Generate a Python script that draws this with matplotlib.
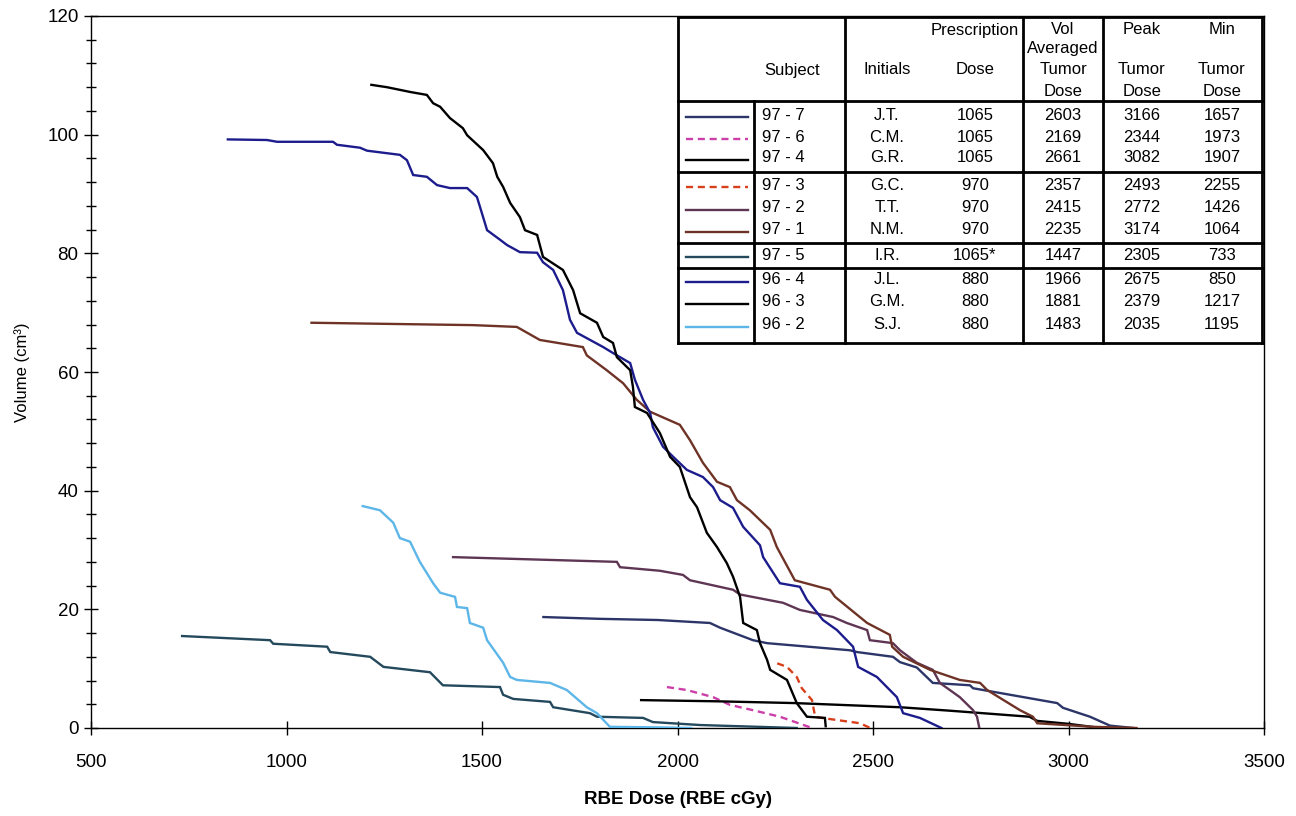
import matplotlib
matplotlib.use("Agg")
import matplotlib.pyplot as plt
from matplotlib.lines import Line2D
from matplotlib.patches import Rectangle
from matplotlib.ticker import MultipleLocator

plt.rcParams['font.family'] = ['Liberation Sans', 'DejaVu Sans']

# ---------------------------------------------------------------- data
subjects = ["97 - 7", "97 - 6", "97 - 4", "97 - 3", "97 - 2", "97 - 1",
            "97 - 5", "96 - 4", "96 - 3", "96 - 2"]
initials = ["J.T.", "C.M.", "G.R.", "G.C.", "T.T.", "N.M.",
            "I.R.", "J.L.", "G.M.", "S.J."]
prescription = ["1065", "1065", "1065", "970", "970", "970",
                "1065*", "880", "880", "880"]
vol_avg_dose = [2603, 2169, 2661, 2357, 2415, 2235, 1447, 1966, 1881, 1483]
peak_dose = [3166, 2344, 3082, 2493, 2772, 3174, 2305, 2675, 2379, 2035]
min_dose = [1657, 1973, 1907, 2255, 1426, 1064, 733, 850, 1217, 1195]

colors = ["#2c3568", "#cc3fa8", "#000000", "#d8401c", "#5e3654",
          "#6e3326", "#24495c", "#1c1c8c", "#000000", "#5cb6e8"]
styles = ["-", (0, (3, 2)), "-", (0, (3, 2)), "-", "-", "-", "-", "-", "-"]

# cumulative dose-volume curves (dose in RBE cGy, volume in cm3)
dose_97_7 = [1657, 1800, 1950, 2083, 2109, 2193, 2229, 2441, 2459, 2551, 2569,
             2612, 2653, 2748, 2756, 2971, 2986, 3055, 3106, 3166]
vol_97_7 = [18.7, 18.4, 18.2, 17.7, 16.9, 14.8, 14.3, 13.1, 12.8, 12.0, 11.1,
            10.2, 7.6, 7.2, 6.7, 4.2, 3.4, 1.9, 0.4, 0.0]

dose_97_6 = [1973, 2024, 2091, 2134, 2193, 2262, 2288, 2344]
vol_97_6 = [6.9, 6.4, 5.2, 3.9, 3.0, 1.9, 1.3, 0.0]

dose_97_4 = [1907, 2100, 2300, 2569, 2700, 2900, 2920, 3000, 3082]
vol_97_4 = [4.7, 4.5, 4.2, 3.5, 2.9, 1.9, 1.2, 0.7, 0.0]

dose_97_3 = [2255, 2280, 2305, 2318, 2344, 2352, 2369, 2467, 2493]
vol_97_3 = [10.9, 10.3, 8.6, 6.7, 4.7, 1.9, 1.7, 0.8, 0.0]

dose_97_2 = [1426, 1845, 1853, 1955, 2014, 2032, 2142, 2160, 2270, 2313, 2398,
             2433, 2485, 2492, 2551, 2569, 2612, 2653, 2671, 2722, 2756, 2766,
             2772]
vol_97_2 = [28.8, 28.0, 27.1, 26.5, 25.8, 24.9, 23.3, 22.5, 21.1, 19.9, 18.7,
            17.7, 16.5, 14.8, 14.3, 13.1, 11.0, 9.8, 7.6, 5.2, 3.0, 1.9, 0.0]

dose_97_1 = [1064, 1477, 1589, 1648, 1758, 1768, 1819, 1861, 1896, 1930, 2006,
             2032, 2065, 2101, 2134, 2152, 2185, 2237, 2254, 2300, 2390, 2403,
             2485, 2543, 2549, 2577, 2646, 2722, 2774, 2792, 2876, 2909, 2920,
             3063, 3174]
vol_97_1 = [68.3, 67.9, 67.6, 65.4, 64.2, 62.8, 60.3, 58.1, 55.3, 53.3, 51.1,
            48.5, 44.7, 41.5, 40.6, 38.4, 36.7, 33.4, 30.5, 24.9, 23.3, 22.1,
            17.7, 15.7, 13.7, 12.0, 9.8, 8.1, 7.6, 6.4, 3.0, 1.9, 0.8, 0.2, 0.0]

dose_97_5 = [733, 958, 966, 1104, 1112, 1214, 1248, 1367, 1400, 1546, 1554,
             1580, 1674, 1682, 1776, 1794, 1912, 1937, 2058, 2305]
vol_97_5 = [15.5, 14.8, 14.2, 13.7, 12.8, 12.0, 10.3, 9.4, 7.2, 6.9, 5.6,
            4.9, 4.4, 3.5, 2.5, 1.9, 1.7, 1.0, 0.5, 0.0]

dose_96_4 = [850, 950, 976, 1119, 1129, 1188, 1206, 1290, 1308, 1324, 1359,
             1385, 1418, 1462, 1487, 1495, 1513, 1546, 1564, 1597, 1641, 1656,
             1682, 1707, 1725, 1743, 1810, 1835, 1879, 1891, 1912, 1930, 1937,
             1963, 1989, 2024, 2065, 2091, 2109, 2142, 2168, 2211, 2219, 2262,
             2313, 2331, 2372, 2408, 2449, 2462, 2510, 2561, 2577, 2620, 2675]
vol_96_4 = [99.2, 99.1, 98.8, 98.8, 98.3, 97.8, 97.3, 96.6, 95.7, 93.2, 92.9,
            91.5, 91.0, 91.0, 89.5, 87.8, 83.9, 82.3, 81.4, 80.2, 80.1, 78.5,
            77.2, 73.8, 68.8, 66.6, 64.2, 63.2, 61.5, 58.7, 55.3, 53.1, 50.7,
            47.4, 45.7, 43.5, 42.3, 40.6, 38.4, 37.1, 33.9, 30.8, 28.8, 24.4,
            23.8, 21.6, 18.2, 16.5, 13.7, 10.3, 8.6, 5.2, 2.5, 1.7, 0.0]

dose_96_3 = [1217, 1257, 1316, 1359, 1375, 1393, 1418, 1451, 1462, 1503, 1528,
             1539, 1554, 1572, 1597, 1610, 1641, 1656, 1707, 1733, 1751, 1794,
             1810, 1835, 1845, 1879, 1886, 1891, 1922, 1955, 1981, 2006, 2032,
             2050, 2075, 2101, 2126, 2142, 2160, 2168, 2203, 2211, 2229, 2237,
             2280, 2305, 2331, 2377, 2379]
vol_96_3 = [108.4, 108.0, 107.2, 106.7, 105.3, 104.7, 102.8, 101.1, 99.9, 97.4,
            95.2, 92.9, 91.2, 88.5, 86.1, 83.9, 83.1, 79.4, 77.2, 73.8, 69.9,
            68.3, 65.9, 64.9, 62.5, 60.3, 57.5, 54.1, 53.1, 49.7, 45.7, 44.0,
            38.9, 37.2, 32.9, 30.5, 27.8, 25.5, 22.1, 17.7, 16.5, 14.3, 11.5,
            9.8, 8.1, 4.2, 1.9, 1.7, 0.3]

dose_96_2 = [1195, 1239, 1273, 1290, 1316, 1341, 1375, 1393, 1431, 1436, 1462,
             1469, 1503, 1513, 1554, 1572, 1589, 1674, 1717, 1768, 1794, 1827,
             1955, 2035]
vol_96_2 = [37.4, 36.7, 34.6, 32.0, 31.4, 28.0, 24.4, 22.8, 22.1, 20.4, 20.2,
            17.7, 16.9, 14.8, 11.0, 8.6, 8.1, 7.6, 6.4, 3.5, 2.5, 0.2, 0.1, 0.0]

curves = [(dose_97_7, vol_97_7), (dose_97_6, vol_97_6), (dose_97_4, vol_97_4),
          (dose_97_3, vol_97_3), (dose_97_2, vol_97_2), (dose_97_1, vol_97_1),
          (dose_97_5, vol_97_5), (dose_96_4, vol_96_4), (dose_96_3, vol_96_3),
          (dose_96_2, vol_96_2)]

x_ticks = [500, 1000, 1500, 2000, 2500, 3000, 3500]
y_ticks = [0, 20, 40, 60, 80, 100, 120]

# ---------------------------------------------------------------- figure
W, H = 1296, 816
fig = plt.figure(figsize=(W / 100, H / 100), dpi=100)
ax = fig.add_axes([91 / W, 1 - 728 / H, (1264 - 91) / W, (728 - 16) / H])

for (d, v), c, ls in zip(curves, colors, styles):
    ax.plot(d, v, color=c, linestyle=ls, linewidth=1.7,
            solid_joinstyle="miter", zorder=3)

ax.set_xlim(x_ticks[0], x_ticks[-1])
ax.set_ylim(y_ticks[0], y_ticks[-1])
ax.set_xticks(x_ticks)
ax.set_yticks(y_ticks)
ax.yaxis.set_minor_locator(MultipleLocator(4))
ax.tick_params(axis="both", which="major", direction="inout", length=10,
               width=1, labelsize=13.5, colors="black")
ax.tick_params(axis="y", which="minor", direction="inout", length=6.5, width=1)
ax.tick_params(axis="x", pad=14)
ax.tick_params(axis="y", pad=4)
for s in ax.spines.values():
    s.set_linewidth(1.0)
    s.set_color("black")

ax.set_xlabel("RBE Dose (RBE cGy)", fontsize=13.5, fontweight="bold",
              labelpad=14)
ax.set_ylabel("Volume (cm³)", fontsize=12, labelpad=12)


# ---------------------------------------------------------------- table
def fx(x):
    return x / W


def fy(y):
    return 1 - y / H


def hline(y, x0, x1, lw=2.0):
    fig.add_artist(Line2D([fx(x0), fx(x1)], [fy(y), fy(y)], color="black",
                          lw=lw, transform=fig.transFigure, zorder=6))


def vline(x, y0, y1, lw=2.0):
    fig.add_artist(Line2D([fx(x), fx(x)], [fy(y0), fy(y1)], color="black",
                          lw=lw, transform=fig.transFigure, zorder=6))


def put(x, y, s, ha="center", size=12):
    fig.text(fx(x), fy(y), s, ha=ha, va="center", fontsize=size,
             transform=fig.transFigure, zorder=7)


t_left, t_right, t_top, t_bottom = 678, 1262, 17, 343
fig.add_artist(Rectangle((fx(t_left), fy(t_bottom)),
                         fx(t_right) - fx(t_left), fy(t_top) - fy(t_bottom),
                         facecolor="white", edgecolor="none",
                         transform=fig.transFigure, zorder=5))

for y in [t_top, 101, 172, 243, 268, t_bottom]:
    hline(y, t_left, t_right)
for x in [t_left, 845, 1023, 1103, t_right]:
    vline(x, t_top, t_bottom)
vline(754, 101, t_bottom)

put(792, 70, "Subject")
put(887, 70, "Initials")
put(975, 30, "Prescription")
put(975, 70, "Dose")
put(1063, 30, "Vol")
put(1063, 49, "Averaged")
put(1063, 70, "Tumor")
put(1063, 91, "Dose")
put(1142, 30, "Peak")
put(1142, 70, "Tumor")
put(1142, 91, "Dose")
put(1222, 30, "Min")
put(1222, 70, "Tumor")
put(1222, 91, "Dose")

row_y = [115, 137, 158, 185, 208, 230, 255, 280, 302, 325]
for i, y in enumerate(row_y):
    fig.add_artist(Line2D([fx(686), fx(748)], [fy(y + 2), fy(y + 2)],
                          color=colors[i], linestyle=styles[i], lw=1.7,
                          transform=fig.transFigure, zorder=7))
    put(762, y, subjects[i], ha="left")
    put(887, y, initials[i])
    put(975, y, prescription[i])
    put(1063, y, str(vol_avg_dose[i]))
    put(1142, y, str(peak_dose[i]))
    put(1222, y, str(min_dose[i]))

fig.savefig("out.png", dpi=100, facecolor="white")
